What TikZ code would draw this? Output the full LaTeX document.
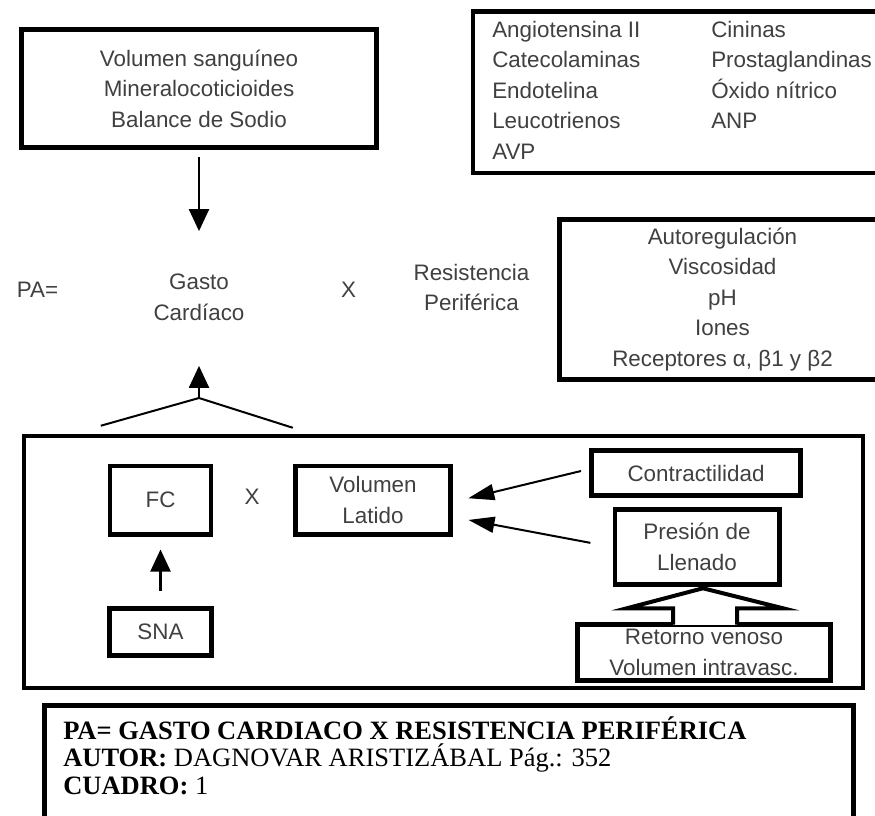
\documentclass[tikz,border=0pt]{standalone}
\usepackage{fontspec}
\setmainfont{Liberation Sans}
\newfontfamily\notafont{Liberation Serif}
\usepackage{tikz}
\usetikzlibrary{arrows.meta,calc}

\begin{document}
\begin{tikzpicture}[
        x=1pt, y=-1pt,
        caja/.style={rectangle, draw, line width=4.5pt, align=center, inner sep=0pt, text=black!75, font=\fontsize{22.4}{30.5}\selectfont},
        texto/.style={align=center, inner sep=0pt, text=black!75, font=\fontsize{22.4}{30.5}\selectfont},
        flecha/.style={-{Triangle[width=20pt,length=22pt]}, line width=2.2pt},
        flechab/.style={-{Triangle[width=16pt,length=26pt]}, line width=2pt},
        linea/.style={line width=2pt}
    ]
        \useasboundingbox (0,0) rectangle (875,816);
        \clip (0,0) rectangle (875,816);

        \node[caja, minimum width=355pt, minimum height=118pt] (vol) at (199,88.5) {Volumen sanguíneo\\Mineralocoticioides\\Balance de Sodio};
        \node[caja, anchor=north west, inner xsep=19.5pt, minimum height=161pt, align=left] (vaso) at (470.5,9.5) {%
            \begin{tabular}{@{}p{219pt}@{}l@{}}
                Angiotensina II & Cininas\\
                Catecolaminas & Prostaglandinas\\
                Endotelina & Óxido nítrico\\
                Leucotrienos & ANP\\
                AVP &
            \end{tabular}};

        \node[texto] (pa) at (37.5,290) {PA=};
        \node[texto] (gasto) at (199,297.5) {Gasto\\Cardíaco};
        \node[texto] (por) at (348.5,290) {X};
        \node[texto] (resist) at (471.5,287.5) {Resistencia\\Periférica};
        \node[caja, minimum width=326pt, minimum height=160pt] (regul) at (722.5,299.5) {Autoregulación\\Viscosidad\\pH\\Iones\\Receptores α, β1 y β2};

        \node[caja, minimum width=839pt, minimum height=252pt] (gc) at (443.5,562) {};
        \node[caja, minimum width=101pt, minimum height=68.5pt] (fc) at (160.5,500) {FC};
        \node[texto] (por2) at (252,497) {X};
        \node[caja, minimum width=155pt, minimum height=68.5pt] (vl) at (373,500) {Volumen\\Latido};
        \node[caja, minimum width=102pt, minimum height=47pt] (sna) at (160.5,632) {SNA};
        \node[caja, minimum width=209pt, minimum height=45pt] (contr) at (696,473) {Contractilidad};
        \node[caja, minimum width=164.5pt, minimum height=75pt] (pres) at (697,547) {Presión de\\Llenado};
        \node[caja, minimum width=253pt, minimum height=56pt] (ret) at (704,652.5) {Retorno venoso\\Volumen intravasc.};

        \node[caja, anchor=north west, minimum width=809pt, inner xsep=19pt, inner ysep=11.5pt, align=left, text=black, font=\notafont\fontsize{26.5}{27.5}\selectfont] (nota) at (42,703) {%
            \parbox[c][110pt][t]{771pt}{\textbf{PA= GASTO CARDIACO X RESISTENCIA PERIFÉRICA}\\
            \textbf{AUTOR:} DAGNOVAR ARISTIZÁBAL Pág.: 352\\
            \textbf{CUADRO:} 1}};

        \coordinate (cumbre) at (199,398);

        \draw[flecha, shorten <=7.5pt, shorten >=43pt] (vol) -- (gasto);
        \draw[flecha, shorten >=45pt] (cumbre) -- (gasto);
        \draw[linea] ($(gc.north west)+(79,-8)$) -- (cumbre) -- ($(gc.north west)+(271,-6)$);
        \draw[flecha, shorten <=15.5pt, shorten >=13pt] (sna) -- (fc);
        \draw[flechab, shorten <=8.5pt, shorten >=16pt] ([yshift=4pt]contr.west) -- ([yshift=-2pt]vl.east);
        \draw[flechab, shorten <=22.5pt, shorten >=16pt] (pres.west) -- ([yshift=-17pt]vl.east);

        \fill[white] ($(ret.north)+(-31,2.6)$) rectangle ($(ret.north)+(33,-14)$);
        \draw[line width=4pt] ($(ret.north)+(-31,2.3)$) -- ++(0,-16.3) -- ++(-46,0) -- ($(ret.north)+(-1,-34)$)
            -- ($(ret.north)+(79,-14)$) -- ++(-46,0) -- ++(0,16.3);
    \end{tikzpicture}
\end{document}
